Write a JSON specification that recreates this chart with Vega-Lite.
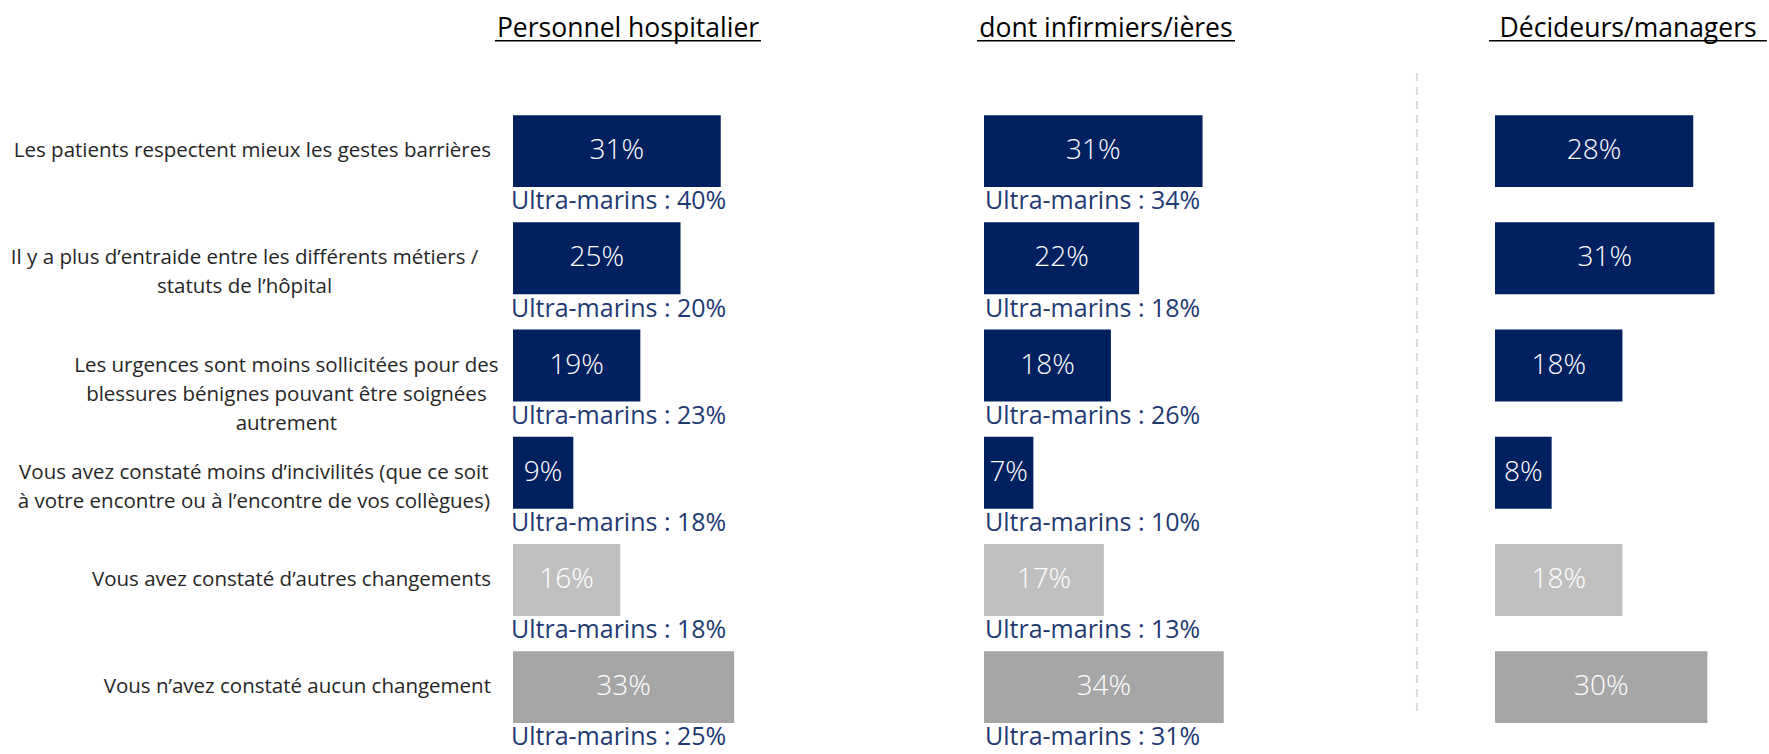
{
  "$schema": "https://vega.github.io/schema/vega-lite/v6.json",
  "padding": 0,
  "background": "white",
  "config": {"view": {"stroke": null}, "font": "Open Sans"},
  "datasets": {
    "bars": [
      {"panel": "Personnel hospitalier", "item": "Les patients respectent mieux les gestes barrières", "value": 0.31, "ultra": "Ultra-marins : 40%"},
      {"panel": "Personnel hospitalier", "item": "Il y a plus d’entraide entre les différents métiers /\nstatuts de l’hôpital", "value": 0.25, "ultra": "Ultra-marins : 20%"},
      {"panel": "Personnel hospitalier", "item": "Les urgences sont moins sollicitées pour des\nblessures bénignes pouvant être soignées\nautrement", "value": 0.19, "ultra": "Ultra-marins : 23%"},
      {"panel": "Personnel hospitalier", "item": "Vous avez constaté moins d’incivilités (que ce soit\nà votre encontre ou à l’encontre de vos collègues)", "value": 0.09, "ultra": "Ultra-marins : 18%"},
      {"panel": "Personnel hospitalier", "item": "Vous avez constaté d’autres changements", "value": 0.16, "ultra": "Ultra-marins : 18%"},
      {"panel": "Personnel hospitalier", "item": "Vous n’avez constaté aucun changement", "value": 0.33, "ultra": "Ultra-marins : 25%"},
      {"panel": "dont infirmiers/ières", "item": "Les patients respectent mieux les gestes barrières", "value": 0.31, "ultra": "Ultra-marins : 34%"},
      {"panel": "dont infirmiers/ières", "item": "Il y a plus d’entraide entre les différents métiers /\nstatuts de l’hôpital", "value": 0.22, "ultra": "Ultra-marins : 18%"},
      {"panel": "dont infirmiers/ières", "item": "Les urgences sont moins sollicitées pour des\nblessures bénignes pouvant être soignées\nautrement", "value": 0.18, "ultra": "Ultra-marins : 26%"},
      {"panel": "dont infirmiers/ières", "item": "Vous avez constaté moins d’incivilités (que ce soit\nà votre encontre ou à l’encontre de vos collègues)", "value": 0.07, "ultra": "Ultra-marins : 10%"},
      {"panel": "dont infirmiers/ières", "item": "Vous avez constaté d’autres changements", "value": 0.17, "ultra": "Ultra-marins : 13%"},
      {"panel": "dont infirmiers/ières", "item": "Vous n’avez constaté aucun changement", "value": 0.34, "ultra": "Ultra-marins : 31%"},
      {"panel": "Décideurs/managers", "item": "Les patients respectent mieux les gestes barrières", "value": 0.28, "ultra": null},
      {"panel": "Décideurs/managers", "item": "Il y a plus d’entraide entre les différents métiers /\nstatuts de l’hôpital", "value": 0.31, "ultra": null},
      {"panel": "Décideurs/managers", "item": "Les urgences sont moins sollicitées pour des\nblessures bénignes pouvant être soignées\nautrement", "value": 0.18, "ultra": null},
      {"panel": "Décideurs/managers", "item": "Vous avez constaté moins d’incivilités (que ce soit\nà votre encontre ou à l’encontre de vos collègues)", "value": 0.08, "ultra": null},
      {"panel": "Décideurs/managers", "item": "Vous avez constaté d’autres changements", "value": 0.18, "ultra": null},
      {"panel": "Décideurs/managers", "item": "Vous n’avez constaté aucun changement", "value": 0.30, "ultra": null}
    ]
  },
  "spacing": 22,
  "bounds": "flush",
  "hconcat": [
    {
      "width": 491, "height": 754,
      "data": {"name": "bars"},
      "transform": [{"filter": "datum.panel === 'Personnel hospitalier'"}],
      "mark": {"type": "text", "lineBreak": "\n", "fontSize": 20.5, "color": "#262626", "baseline": "middle", "lineHeight": 29,
        "align": {"expr": "indexof(datum.item, '\\n') > 0 ? 'center' : 'right'"},
        "dx": {"expr": "indexof(datum.item, '\\n') > 0 ? -indexof(datum.item, '\\n') * 4.65 : 0"}},
      "encoding": {
        "x": {"datum": 1, "type": "quantitative", "scale": {"domain": [0, 1], "nice": false}, "axis": null},
        "y": {"field": "item", "type": "nominal", "axis": null, "scale": {"type": "band", "domain": ["header", "Les patients respectent mieux les gestes barrières", "Il y a plus d’entraide entre les différents métiers /\nstatuts de l’hôpital", "Les urgences sont moins sollicitées pour des\nblessures bénignes pouvant être soignées\nautrement", "Vous avez constaté moins d’incivilités (que ce soit\nà votre encontre ou à l’encontre de vos collègues)", "Vous avez constaté d’autres changements", "Vous n’avez constaté aucun changement"], "paddingInner": 0.33, "paddingOuter": 0.181, "align": 0.204}},
        "text": {"field": "item", "type": "nominal"}
      }
    },
    {
      "width": 449, "height": 754,
      "data": {"name": "bars"},
      "transform": [{"filter": "datum.panel === 'Personnel hospitalier'"}],
      "resolve": {"scale": {"x": "independent"}},
      "layer": [
        {
          "mark": {"type": "bar"},
          "encoding": {
            "x": {"field": "value", "type": "quantitative", "scale": {"domain": [0, 0.67], "nice": false}, "axis": null},
            "y": {"field": "item", "type": "nominal", "axis": null, "scale": {"type": "band", "domain": ["header", "Les patients respectent mieux les gestes barrières", "Il y a plus d’entraide entre les différents métiers /\nstatuts de l’hôpital", "Les urgences sont moins sollicitées pour des\nblessures bénignes pouvant être soignées\nautrement", "Vous avez constaté moins d’incivilités (que ce soit\nà votre encontre ou à l’encontre de vos collègues)", "Vous avez constaté d’autres changements", "Vous n’avez constaté aucun changement"], "paddingInner": 0.33, "paddingOuter": 0.181, "align": 0.204}},
            "color": {"field": "item", "type": "nominal", "legend": null, "scale": {"domain": ["Les patients respectent mieux les gestes barrières", "Il y a plus d’entraide entre les différents métiers /\nstatuts de l’hôpital", "Les urgences sont moins sollicitées pour des\nblessures bénignes pouvant être soignées\nautrement", "Vous avez constaté moins d’incivilités (que ce soit\nà votre encontre ou à l’encontre de vos collègues)", "Vous avez constaté d’autres changements", "Vous n’avez constaté aucun changement"], "range": ["#002060", "#002060", "#002060", "#002060", "#BFBFBF", "#A6A6A6"]}}
          }
        },
        {
          "mark": {"type": "text", "color": "white", "fontSize": 28, "fontWeight": 300, "baseline": "middle", "align": "center"},
          "encoding": {
            "x": {"field": "value", "type": "quantitative", "scale": {"domain": [0, 1.34], "nice": false}, "axis": null},
            "y": {"field": "item", "type": "nominal", "axis": null},
            "text": {"field": "value", "type": "quantitative", "format": ".0%"}
          }
        },
        {
          "mark": {"type": "text", "color": "#1F3A73", "fontSize": 25, "fontWeight": 400, "baseline": "middle", "align": "left", "dx": -2},
          "encoding": {
            "x": {"datum": 0, "type": "quantitative", "scale": {"domain": [0, 0.67], "nice": false}, "axis": null},
            "y": {"field": "item", "type": "nominal", "axis": null, "bandPosition": 1.2},
            "text": {"field": "ultra", "type": "nominal"}
          }
        },
        {
          "transform": [{"filter": "datum.item === 'Vous avez constaté d’autres changements'"}],
          "mark": {"type": "text", "color": "black", "fontSize": 26.5, "baseline": "alphabetic", "align": "center"},
          "encoding": {
            "x": {"datum": 0.1716, "type": "quantitative", "scale": {"domain": [0, 0.67], "nice": false}, "axis": null},
            "y": {"datum": "header", "type": "nominal", "axis": null, "bandPosition": 0.4},
            "text": {"field": "panel", "type": "nominal"}
          }
        },
        {
          "transform": [{"filter": "datum.item === 'Vous avez constaté d’autres changements'"}],
          "mark": {"type": "rule", "color": "black", "strokeWidth": 1.5},
          "encoding": {
            "x": {"datum": -0.027, "type": "quantitative", "scale": {"domain": [0, 0.67], "nice": false}, "axis": null},
            "x2": {"datum": 0.37},
            "y": {"datum": "header", "type": "nominal", "axis": null, "bandPosition": 0.456}
          }
        }
      ]
    },
    {
      "width": 489, "height": 754,
      "data": {"name": "bars"},
      "transform": [{"filter": "datum.panel === 'dont infirmiers/ières'"}],
      "resolve": {"scale": {"x": "independent"}},
      "layer": [
        {
          "transform": [{"filter": "datum.item === 'Vous avez constaté d’autres changements'"}],
          "mark": {"type": "rule", "color": "#D9D9D9", "strokeWidth": 2, "strokeDash": [8, 6]},
          "encoding": {
            "x": {"datum": 0.614, "type": "quantitative", "scale": {"domain": [0, 0.6936], "nice": false}, "axis": null},
            "y": {"datum": "header", "type": "nominal", "axis": null, "bandPosition": 0.906, "scale": {"type": "band", "domain": ["header", "Les patients respectent mieux les gestes barrières", "Il y a plus d’entraide entre les différents métiers /\nstatuts de l’hôpital", "Les urgences sont moins sollicitées pour des\nblessures bénignes pouvant être soignées\nautrement", "Vous avez constaté moins d’incivilités (que ce soit\nà votre encontre ou à l’encontre de vos collègues)", "Vous avez constaté d’autres changements", "Vous n’avez constaté aucun changement"], "paddingInner": 0.33, "paddingOuter": 0.181, "align": 0.204}},
            "y2": {"datum": "Vous n’avez constaté aucun changement", "bandPosition": 0.86}
          }
        },
        {
          "mark": {"type": "bar"},
          "encoding": {
            "x": {"field": "value", "type": "quantitative", "scale": {"domain": [0, 0.6936], "nice": false}, "axis": null},
            "y": {"field": "item", "type": "nominal", "axis": null},
            "color": {"field": "item", "type": "nominal", "legend": null, "scale": {"domain": ["Les patients respectent mieux les gestes barrières", "Il y a plus d’entraide entre les différents métiers /\nstatuts de l’hôpital", "Les urgences sont moins sollicitées pour des\nblessures bénignes pouvant être soignées\nautrement", "Vous avez constaté moins d’incivilités (que ce soit\nà votre encontre ou à l’encontre de vos collègues)", "Vous avez constaté d’autres changements", "Vous n’avez constaté aucun changement"], "range": ["#002060", "#002060", "#002060", "#002060", "#BFBFBF", "#A6A6A6"]}}
          }
        },
        {
          "mark": {"type": "text", "color": "white", "fontSize": 28, "fontWeight": 300, "baseline": "middle", "align": "center"},
          "encoding": {
            "x": {"field": "value", "type": "quantitative", "scale": {"domain": [0, 1.3872], "nice": false}, "axis": null},
            "y": {"field": "item", "type": "nominal", "axis": null},
            "text": {"field": "value", "type": "quantitative", "format": ".0%"}
          }
        },
        {
          "mark": {"type": "text", "color": "#1F3A73", "fontSize": 25, "fontWeight": 400, "baseline": "middle", "align": "left", "dx": 1},
          "encoding": {
            "x": {"datum": 0, "type": "quantitative", "scale": {"domain": [0, 0.6936], "nice": false}, "axis": null},
            "y": {"field": "item", "type": "nominal", "axis": null, "bandPosition": 1.2},
            "text": {"field": "ultra", "type": "nominal"}
          }
        },
        {
          "transform": [{"filter": "datum.item === 'Vous avez constaté d’autres changements'"}],
          "mark": {"type": "text", "color": "black", "fontSize": 26.5, "baseline": "alphabetic", "align": "center"},
          "encoding": {
            "x": {"datum": 0.173, "type": "quantitative", "scale": {"domain": [0, 0.6936], "nice": false}, "axis": null},
            "y": {"datum": "header", "type": "nominal", "axis": null, "bandPosition": 0.4},
            "text": {"field": "panel", "type": "nominal"}
          }
        },
        {
          "transform": [{"filter": "datum.item === 'Vous avez constaté d’autres changements'"}],
          "mark": {"type": "rule", "color": "black", "strokeWidth": 1.5},
          "encoding": {
            "x": {"datum": -0.0099, "type": "quantitative", "scale": {"domain": [0, 0.6936], "nice": false}, "axis": null},
            "x2": {"datum": 0.356},
            "y": {"datum": "header", "type": "nominal", "axis": null, "bandPosition": 0.456}
          }
        }
      ]
    },
    {
      "width": 274, "height": 754,
      "data": {"name": "bars"},
      "transform": [{"filter": "datum.panel === 'Décideurs/managers'"}],
      "resolve": {"scale": {"x": "independent"}},
      "layer": [
        {
          "mark": {"type": "bar"},
          "encoding": {
            "x": {"field": "value", "type": "quantitative", "scale": {"domain": [0, 0.387], "nice": false}, "axis": null},
            "y": {"field": "item", "type": "nominal", "axis": null, "scale": {"type": "band", "domain": ["header", "Les patients respectent mieux les gestes barrières", "Il y a plus d’entraide entre les différents métiers /\nstatuts de l’hôpital", "Les urgences sont moins sollicitées pour des\nblessures bénignes pouvant être soignées\nautrement", "Vous avez constaté moins d’incivilités (que ce soit\nà votre encontre ou à l’encontre de vos collègues)", "Vous avez constaté d’autres changements", "Vous n’avez constaté aucun changement"], "paddingInner": 0.33, "paddingOuter": 0.181, "align": 0.204}},
            "color": {"field": "item", "type": "nominal", "legend": null, "scale": {"domain": ["Les patients respectent mieux les gestes barrières", "Il y a plus d’entraide entre les différents métiers /\nstatuts de l’hôpital", "Les urgences sont moins sollicitées pour des\nblessures bénignes pouvant être soignées\nautrement", "Vous avez constaté moins d’incivilités (que ce soit\nà votre encontre ou à l’encontre de vos collègues)", "Vous avez constaté d’autres changements", "Vous n’avez constaté aucun changement"], "range": ["#002060", "#002060", "#002060", "#002060", "#BFBFBF", "#A6A6A6"]}}
          }
        },
        {
          "mark": {"type": "text", "color": "white", "fontSize": 28, "fontWeight": 300, "baseline": "middle", "align": "center"},
          "encoding": {
            "x": {"field": "value", "type": "quantitative", "scale": {"domain": [0, 0.774], "nice": false}, "axis": null},
            "y": {"field": "item", "type": "nominal", "axis": null},
            "text": {"field": "value", "type": "quantitative", "format": ".0%"}
          }
        },
        {
          "transform": [{"filter": "datum.item === 'Vous avez constaté d’autres changements'"}],
          "mark": {"type": "text", "color": "black", "fontSize": 26.5, "baseline": "alphabetic", "align": "center"},
          "encoding": {
            "x": {"datum": 0.188, "type": "quantitative", "scale": {"domain": [0, 0.387], "nice": false}, "axis": null},
            "y": {"datum": "header", "type": "nominal", "axis": null, "bandPosition": 0.4},
            "text": {"field": "panel", "type": "nominal"}
          }
        },
        {
          "transform": [{"filter": "datum.item === 'Vous avez constaté d’autres changements'"}],
          "mark": {"type": "rule", "color": "black", "strokeWidth": 1.5},
          "encoding": {
            "x": {"datum": -0.0085, "type": "quantitative", "scale": {"domain": [0, 0.387], "nice": false}, "axis": null},
            "x2": {"datum": 0.384},
            "y": {"datum": "header", "type": "nominal", "axis": null, "bandPosition": 0.456}
          }
        }
      ]
    }
  ]
}
